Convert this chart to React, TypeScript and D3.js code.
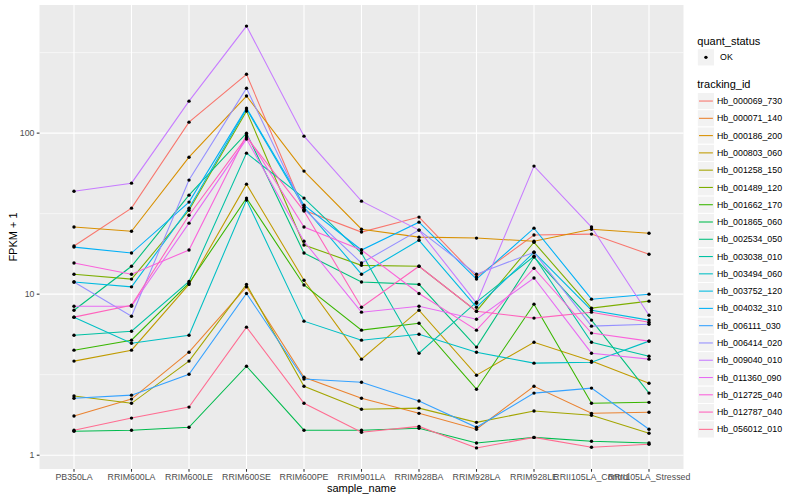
import React, { useEffect, useRef } from 'react';
import * as d3 from 'd3';

const sampleNames = [
  'PB350LA', 'RRIM600LA', 'RRIM600LE', 'RRIM600SE', 'RRIM600PE', 'RRIM901LA',
  'RRIM928BA', 'RRIM928LA', 'RRIM928LE', 'RRII105LA_Control', 'RRII105LA_Stressed',
];

const trackingIds = [
  'Hb_000069_730', 'Hb_000071_140', 'Hb_000186_200', 'Hb_000803_060', 'Hb_001258_150',
  'Hb_001489_120', 'Hb_001662_170', 'Hb_001865_060', 'Hb_002534_050', 'Hb_003038_010',
  'Hb_003494_060', 'Hb_003752_120', 'Hb_004032_310', 'Hb_006111_030', 'Hb_006414_020',
  'Hb_009040_010', 'Hb_011360_090', 'Hb_012725_040', 'Hb_012787_040', 'Hb_056012_010',
];

// FPKM + 1 per sample (same order as sampleNames)
const hb000069_730 = [19.9, 34.2, 117, 232, 33.2, 24.3, 30.1, 12.8, 23.3, 23.6, 17.7];
const hb000071_140 = [1.75, 2.23, 4.36, 11.1, 3.05, 2.26, 1.82, 1.45, 2.68, 1.82, 1.85];
const hb000186_200 = [26.1, 24.6, 70.9, 170, 58.1, 25.3, 22.6, 22.3, 21.3, 25.3, 23.9];
const hb000803_060 = [3.84, 4.49, 11.5, 48.2, 12.2, 3.95, 7.95, 3.14, 5.03, 3.84, 2.8];
const hb001258_150 = [2.33, 2.1, 3.84, 11.5, 2.68, 1.93, 1.96, 1.6, 1.88, 1.77, 1.37];
const hb001489_120 = [13.3, 12.4, 33.2, 137, 20.2, 15.1, 14.9, 7.84, 21.0, 8.19, 9.05];
const hb001662_170 = [4.49, 5.18, 11.7, 39.5, 11.4, 5.98, 6.6, 2.57, 8.67, 2.1, 2.13];
const hb001865_060 = [1.41, 1.43, 1.49, 3.57, 1.43, 1.43, 1.47, 1.19, 1.29, 1.22, 1.19];
const hb002534_050 = [7.95, 14.9, 41.2, 100, 18.0, 11.9, 11.5, 4.69, 17.0, 6.9, 2.43];
const hb003038_010 = [5.56, 5.89, 12.0, 75.1, 39.5, 18.0, 4.3, 8.92, 17.2, 5.03, 4.12];
const hb003494_060 = [7.2, 4.96, 5.56, 38.4, 6.8, 5.18, 5.64, 4.36, 3.73, 3.78, 5.11];
const hb003752_120 = [11.9, 11.1, 34.2, 141, 34.7, 13.3, 21.6, 8.3, 18.2, 7.95, 6.9];
const hb004032_310 = [19.6, 18.0, 37.3, 143, 35.7, 18.8, 28.0, 12.4, 25.7, 9.31, 10.0];
const hb006111_030 = [2.26, 2.36, 3.18, 10.1, 2.97, 2.84, 2.17, 1.49, 2.43, 2.61, 1.45];
const hb006414_020 = [11.9, 7.3, 51.1, 190, 33.7, 15.6, 25.0, 13.3, 18.2, 6.33, 6.51];
const hb009040_010 = [43.6, 48.9, 158, 462, 95.8, 37.8, 25.0, 8.79, 62.4, 26.1, 7.4];
const hb011360_090 = [8.42, 8.42, 27.6, 91.8, 21.3, 7.73, 8.42, 6.99, 12.6, 4.3, 3.95];
const hb012725_040 = [15.6, 13.3, 18.8, 97.2, 26.1, 18.8, 10.1, 5.98, 14.5, 5.73, 5.11];
const hb012787_040 = [7.2, 8.54, 30.9, 94.5, 32.8, 8.3, 14.9, 7.84, 7.1, 7.73, 6.7];
const hb056012_010 = [1.43, 1.7, 1.99, 6.24, 2.1, 1.39, 1.51, 1.11, 1.29, 1.12, 1.17];

const seriesValues = [
  hb000069_730, hb000071_140, hb000186_200, hb000803_060, hb001258_150,
  hb001489_120, hb001662_170, hb001865_060, hb002534_050, hb003038_010,
  hb003494_060, hb003752_120, hb004032_310, hb006111_030, hb006414_020,
  hb009040_010, hb011360_090, hb012725_040, hb012787_040, hb056012_010,
];

const hueColors = [
  '#F8766D', '#EA8331', '#D89000', '#C09B00', '#A3A500', '#7CAE00', '#39B600',
  '#00BB4E', '#00BF7D', '#00C1A3', '#00BFC4', '#00BAE0', '#00B0F6', '#35A2FF',
  '#9590FF', '#C77CFF', '#E76BF3', '#FA62DB', '#FF62BC', '#FF6C91',
];

const FONT = '"Liberation Sans", Arial, Helvetica, sans-serif';

const App: React.FC = () => {
  const svgRef = useRef<SVGSVGElement>(null);

  useEffect(() => {
    if (!svgRef.current) return;
    const svg = d3.select(svgRef.current);
    svg.selectAll('*').remove();

    const panel = { left: 39.5, right: 683.5, top: 5, bottom: 469 };

    const x = d3.scalePoint<string>()
      .domain(sampleNames)
      .range([panel.left, panel.right])
      .padding(0.6);

    const all = seriesValues.flat();
    const lo = Math.log10(d3.min(all) as number);
    const hi = Math.log10(d3.max(all) as number);
    const pad = (hi - lo) * 0.05;
    const y = d3.scaleLog()
      .domain([10 ** (lo - pad), 10 ** (hi + pad)])
      .range([panel.bottom, panel.top]);

    // panel background
    svg.append('rect')
      .attr('x', panel.left).attr('y', panel.top)
      .attr('width', panel.right - panel.left)
      .attr('height', panel.bottom - panel.top)
      .attr('fill', '#EBEBEB');

    const minorY = [10 ** 0.5, 10 ** 1.5, 10 ** 2.5];
    const majorY = [1, 10, 100];

    svg.append('g').selectAll('line')
      .data(minorY)
      .enter().append('line')
      .attr('x1', panel.left).attr('x2', panel.right)
      .attr('y1', d => y(d)).attr('y2', d => y(d))
      .attr('stroke', '#fff').attr('stroke-width', 0.55);

    svg.append('g').selectAll('line')
      .data(majorY)
      .enter().append('line')
      .attr('x1', panel.left).attr('x2', panel.right)
      .attr('y1', d => y(d)).attr('y2', d => y(d))
      .attr('stroke', '#fff').attr('stroke-width', 1.1);

    svg.append('g').selectAll('line')
      .data(sampleNames)
      .enter().append('line')
      .attr('x1', d => x(d) as number).attr('x2', d => x(d) as number)
      .attr('y1', panel.top).attr('y2', panel.bottom)
      .attr('stroke', '#fff').attr('stroke-width', 1.1);

    // lines
    const line = d3.line<number>()
      .x((_, i) => x(sampleNames[i]) as number)
      .y(d => y(d));

    svg.append('g').selectAll('path')
      .data(seriesValues)
      .enter().append('path')
      .attr('d', d => line(d))
      .attr('fill', 'none')
      .attr('stroke', (_, i) => hueColors[i])
      .attr('stroke-width', 1.07);

    // points
    const pts = seriesValues.flatMap(vals => vals.map((v, i) => ({ s: sampleNames[i], v })));
    svg.append('g').selectAll('circle')
      .data(pts)
      .enter().append('circle')
      .attr('cx', d => x(d.s) as number)
      .attr('cy', d => y(d.v))
      .attr('r', 1.7)
      .attr('fill', '#000');

    // axes
    const axisG = svg.append('g').style('font-family', FONT);

    axisG.selectAll('.ytick')
      .data(majorY)
      .enter().append('line')
      .attr('x1', panel.left - 2.75).attr('x2', panel.left)
      .attr('y1', d => y(d)).attr('y2', d => y(d))
      .attr('stroke', '#333').attr('stroke-width', 1.07);

    axisG.selectAll('.ylab')
      .data(majorY)
      .enter().append('text')
      .attr('x', panel.left - 5)
      .attr('y', d => y(d))
      .attr('dy', '0.35em')
      .attr('text-anchor', 'end')
      .style('font-size', '8.8px')
      .style('fill', '#4D4D4D')
      .text(d => String(d));

    axisG.selectAll('.xtick')
      .data(sampleNames)
      .enter().append('line')
      .attr('x1', d => x(d) as number).attr('x2', d => x(d) as number)
      .attr('y1', panel.bottom).attr('y2', panel.bottom + 2.75)
      .attr('stroke', '#333').attr('stroke-width', 1.07);

    axisG.selectAll('.xlab')
      .data(sampleNames)
      .enter().append('text')
      .attr('x', d => x(d) as number)
      .attr('y', panel.bottom + 11)
      .attr('text-anchor', 'middle')
      .style('font-size', '8.8px')
      .style('fill', '#4D4D4D')
      .text(d => d);

    axisG.append('text')
      .attr('x', (panel.left + panel.right) / 2)
      .attr('y', 492)
      .attr('text-anchor', 'middle')
      .style('font-size', '11px')
      .style('fill', '#000')
      .text('sample_name');

    axisG.append('text')
      .attr('transform', `translate(16.5,${(panel.top + panel.bottom) / 2}) rotate(-90)`)
      .attr('text-anchor', 'middle')
      .style('font-size', '11px')
      .style('fill', '#000')
      .text('FPKM + 1');

    // legends
    const lg = svg.append('g').style('font-family', FONT);
    const keyX = 697.3;
    const keySize = 17.28;

    lg.append('text')
      .attr('x', keyX).attr('y', 44.5)
      .style('font-size', '11px')
      .text('quant_status');

    lg.append('rect')
      .attr('x', keyX).attr('y', 48.7)
      .attr('width', keySize).attr('height', keySize)
      .attr('fill', '#F2F2F2').attr('stroke', '#fff').attr('stroke-width', 1);
    lg.append('circle')
      .attr('cx', keyX + keySize / 2).attr('cy', 48.7 + keySize / 2)
      .attr('r', 1.7).attr('fill', '#000');
    lg.append('text')
      .attr('x', keyX + keySize + 5.5).attr('y', 48.7 + keySize / 2)
      .attr('dy', '0.35em')
      .style('font-size', '8.8px')
      .text('OK');

    lg.append('text')
      .attr('x', keyX).attr('y', 88)
      .style('font-size', '11px')
      .text('tracking_id');

    const keyTop = 92.4;
    const keys = lg.selectAll('.key')
      .data(trackingIds)
      .enter().append('g')
      .attr('transform', (_, i) => `translate(${keyX},${keyTop + i * keySize})`);

    keys.append('rect')
      .attr('width', keySize).attr('height', keySize)
      .attr('fill', '#F2F2F2').attr('stroke', '#fff').attr('stroke-width', 1);
    keys.append('line')
      .attr('x1', 1.7).attr('x2', keySize - 1.7)
      .attr('y1', keySize / 2).attr('y2', keySize / 2)
      .attr('stroke', (_, i) => hueColors[i])
      .attr('stroke-width', 1.07);
    keys.append('text')
      .attr('x', keySize + 2.2 + 0.2)
      .attr('y', keySize / 2)
      .attr('dy', '0.35em')
      .style('font-size', '8.8px')
      .text(d => d);
  }, []);

  return (
    <svg
      ref={svgRef}
      width={800}
      height={500}
      style={{ position: 'absolute', left: 0, top: 0, background: '#fff' }}
    />
  );
};

export default App;
